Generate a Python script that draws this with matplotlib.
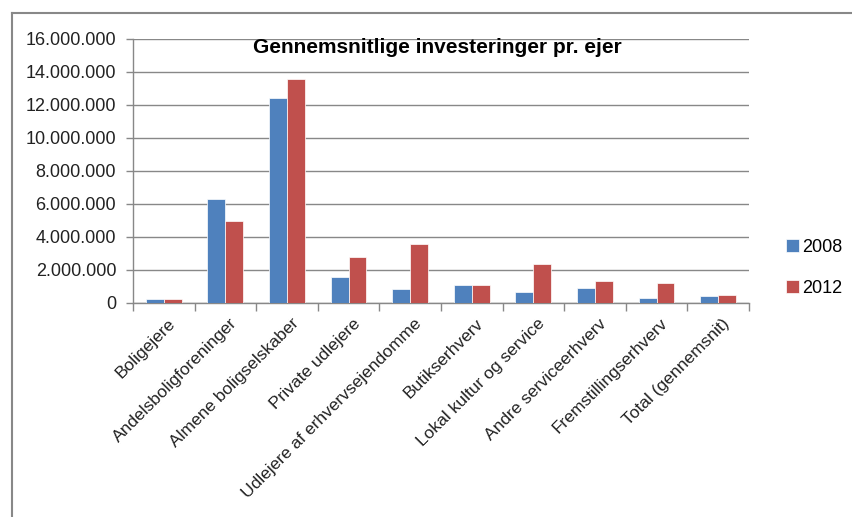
import matplotlib
matplotlib.use("Agg")
import matplotlib.pyplot as plt
from matplotlib.ticker import FuncFormatter, FixedLocator
from matplotlib.lines import Line2D
import numpy as np

plt.rcParams['font.family'] = ['Liberation Sans', 'DejaVu Sans']

# data
categories = ["Boligejere", "Andelsboligforeninger", "Almene boligselskaber",
              "Private udlejere", "Udlejere af erhvervsejendomme", "Butikserhverv",
              "Lokal kultur og service", "Andre serviceerhverv",
              "Fremstillingserhverv", "Total (gennemsnit)"]
values_2008 = [230000, 6280000, 12410000, 1550000, 850000, 1110000,
               650000, 930000, 300000, 440000]
values_2012 = [230000, 4980000, 13580000, 2780000, 3590000, 1110000,
               2360000, 1330000, 1190000, 500000]
series_names = ["2008", "2012"]
title = "Gennemsnitlige investeringer pr. ejer"

blue = "#4F81BD"
red = "#C0504D"
grid_col = "#888888"

fig = plt.figure(figsize=(8.52, 5.17), dpi=100)
ax = fig.add_axes([0.156, 0.414, 0.723, 0.511])

x = np.arange(len(categories))
w = 0.29
ax.bar(x - w / 2, values_2008, w, color=blue, edgecolor="white", linewidth=0.5,
       label=series_names[0], zorder=3)
ax.bar(x + w / 2, values_2012, w, color=red, edgecolor="white", linewidth=0.5,
       label=series_names[1], zorder=3)

ax.set_xlim(-0.5, len(categories) - 0.5)
ax.set_ylim(0, 16000000)
ax.set_yticks(np.arange(0, 16000001, 2000000))
ax.yaxis.set_major_formatter(FuncFormatter(lambda v, p: f"{int(v):,}".replace(",", ".")))
ax.yaxis.grid(True, color=grid_col, linewidth=1)
ax.set_axisbelow(True)

ax.set_xticks(x)
ax.set_xticklabels([])
ax.tick_params(axis="x", which="major", length=0)
ax.xaxis.set_minor_locator(FixedLocator(np.arange(-0.5, len(categories), 1)))
ax.tick_params(axis="x", which="minor", length=6, color=grid_col, width=1)
ax.tick_params(axis="y", length=5, color=grid_col, width=1, labelsize=13,
               labelcolor="#222222", pad=7)

for i, lab in enumerate(categories):
    ax.text(i + 0.15, -1100000, lab, rotation=45, ha="right", va="center",
            rotation_mode="anchor", fontsize=12.5, color="#222222")

for s in ["top", "right"]:
    ax.spines[s].set_visible(False)
for s in ["left", "bottom"]:
    ax.spines[s].set_color(grid_col)
    ax.spines[s].set_linewidth(1)

fig.text(0.513, 0.909, title, ha="center", va="center", fontsize=15,
         fontweight="bold", color="black")

ax.legend(loc="center left", bbox_to_anchor=(1.034, 0.133), frameon=False,
          fontsize=13, handlelength=0.7, handleheight=0.7, handletextpad=0.2,
          labelspacing=1.35)

# outer chart border (top and left only visible)
fig.add_artist(Line2D([12 / 852, 1], [1 - 13 / 517] * 2, transform=fig.transFigure,
                      color="#888888", linewidth=1.5))
fig.add_artist(Line2D([12 / 852] * 2, [0, 1 - 13 / 517], transform=fig.transFigure,
                      color="#888888", linewidth=1.5))

fig.savefig("out.png", dpi=100)
